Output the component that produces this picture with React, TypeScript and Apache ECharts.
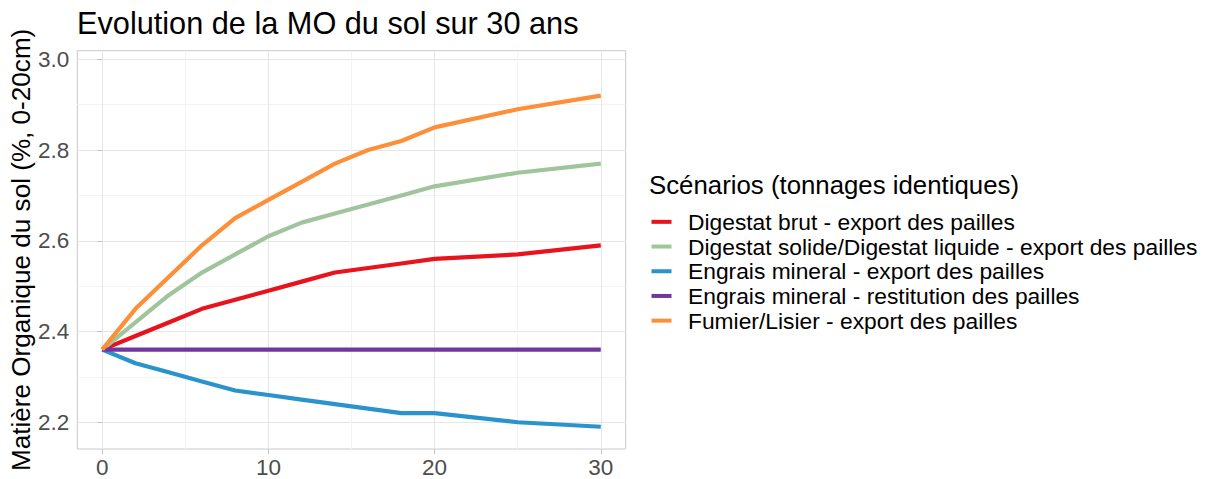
import React, { useEffect, useRef } from "react";
import * as echarts from "echarts";

const years = [0, 2, 4, 6, 8, 10, 12, 14, 16, 18, 20, 25, 30];
const digestatBrut = [2.36, 2.39, 2.42, 2.45, 2.47, 2.49, 2.51, 2.53, 2.54, 2.55, 2.56, 2.57, 2.59];
const digestatSolide = [2.36, 2.42, 2.48, 2.53, 2.57, 2.61, 2.64, 2.66, 2.68, 2.70, 2.72, 2.75, 2.77];
const engraisExport = [2.36, 2.33, 2.31, 2.29, 2.27, 2.26, 2.25, 2.24, 2.23, 2.22, 2.22, 2.20, 2.19];
const engraisRestitution = [2.36, 2.36, 2.36, 2.36, 2.36, 2.36, 2.36, 2.36, 2.36, 2.36, 2.36, 2.36, 2.36];
const fumierLisier = [2.36, 2.45, 2.52, 2.59, 2.65, 2.69, 2.73, 2.77, 2.80, 2.82, 2.85, 2.89, 2.92];

const seriesNames = [
  "Digestat brut - export des pailles",
  "Digestat solide/Digestat liquide - export des pailles",
  "Engrais mineral - export des pailles",
  "Engrais mineral - restitution des pailles",
  "Fumier/Lisier - export des pailles",
];
const seriesValues = [digestatBrut, digestatSolide, engraisExport, engraisRestitution, fumierLisier];
const seriesColors = ["#E8131B", "#A0C49B", "#2A93CC", "#7236A0", "#FD8F38"];

const xMajorTicks = [0, 10, 20, 30];
const xMinorTicks = [5, 15, 25];
const yMajorTicks = [2.2, 2.4, 2.6, 2.8, 3.0];
const yMinorTicks = [2.3, 2.5, 2.7, 2.9];

const FONT = "Liberation Sans, Arial, sans-serif";

export default function App() {
  const ref = useRef<HTMLDivElement>(null);
  useEffect(() => {
    if (!ref.current) return;
    const chart = echarts.init(ref.current, null, { renderer: "svg" });
    const xMin = -1.5, xMax = 31.5, yMin = 2.141, yMax = 3.019;
    chart.setOption({
      animation: false,
      textStyle: { fontFamily: FONT },
      title: [
        {
          text: "Evolution de la MO du sol sur 30 ans",
          left: 77,
          top: 8,
          padding: 0,
          textStyle: { fontSize: 30.7, fontWeight: "normal", color: "#000", fontFamily: FONT },
        },
        {
          text: "Scénarios (tonnages identiques)",
          left: 649,
          top: 172,
          padding: 0,
          textStyle: { fontSize: 25.8, fontWeight: "normal", color: "#000", fontFamily: FONT },
        },
      ],
      legend: {
        orient: "vertical",
        left: 651.5,
        top: 209.5,
        padding: 0,
        itemGap: 0,
        itemWidth: 20,
        itemHeight: 4,
        icon: "rect",
        data: seriesNames,
        textStyle: {
          fontSize: 22.8,
          color: "#000",
          fontFamily: FONT,
          lineHeight: 24.7,
          padding: [0, 0, 0, 11.5],
        },
      },
      grid: {
        left: 77.3,
        top: 50.7,
        width: 548.4,
        height: 402,
        show: true,
        borderColor: "#C9C9C9",
        borderWidth: 1,
        backgroundColor: "transparent",
      },
      xAxis: [
        {
          type: "value",
          min: xMin,
          max: xMax,
          axisLine: { show: false },
          axisTick: { show: true, customValues: xMajorTicks, length: 5, lineStyle: { color: "#C3C3C3", width: 1 } },
          axisLabel: { customValues: xMajorTicks, fontSize: 22.5, color: "#4D4D4D", margin: 7, fontFamily: FONT },
          splitLine: { show: true, lineStyle: { color: "#E6E6E6", width: 1 } },
        },
        {
          type: "value",
          min: xMin,
          max: xMax,
          position: "top",
          axisLine: { show: false },
          axisTick: { show: false, customValues: xMinorTicks },
          axisLabel: { show: false, customValues: xMinorTicks },
          splitLine: { show: true, lineStyle: { color: "#F3F3F3", width: 1 } },
        },
      ],
      yAxis: [
        {
          type: "value",
          min: yMin,
          max: yMax,
          name: "Matière Organique du sol (%, 0-20cm)",
          nameLocation: "middle",
          nameRotate: 90,
          nameGap: 42,
          nameTextStyle: { fontSize: 26.1, color: "#000", fontFamily: FONT },
          axisLine: { show: false },
          axisTick: { show: true, customValues: yMajorTicks, length: 5, lineStyle: { color: "#C3C3C3", width: 1 } },
          axisLabel: {
            customValues: yMajorTicks,
            fontSize: 22.5,
            color: "#4D4D4D",
            margin: 8,
            fontFamily: FONT,
            formatter: (v: number) => v.toFixed(1),
          },
          splitLine: { show: true, lineStyle: { color: "#E6E6E6", width: 1 } },
        },
        {
          type: "value",
          min: yMin,
          max: yMax,
          position: "right",
          axisLine: { show: false },
          axisTick: { show: false, customValues: yMinorTicks },
          axisLabel: { show: false, customValues: yMinorTicks },
          splitLine: { show: true, lineStyle: { color: "#F3F3F3", width: 1 } },
        },
      ],
      series: seriesNames.map((name, i) => ({
        name,
        type: "line",
        xAxisIndex: 0,
        yAxisIndex: 0,
        data: years.map((y, j) => [y, seriesValues[i][j]]),
        showSymbol: false,
        symbol: "none",
        color: seriesColors[i],
        lineStyle: { color: seriesColors[i], width: 4.2 },
        z: 2 + i,
      })),
    });
    return () => chart.dispose();
  }, []);
  return <div ref={ref} style={{ position: "fixed", left: 0, top: 0, width: 1206, height: 479, background: "#fff" }} />;
}
